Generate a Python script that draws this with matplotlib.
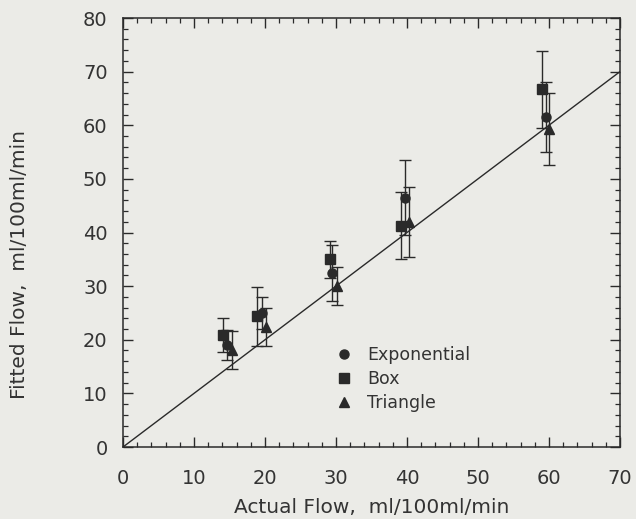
import matplotlib.pyplot as plt
from matplotlib.ticker import MultipleLocator

# values
x_exp = [14.7, 19.6, 29.5, 39.7, 59.6]
y_exp = [19.0, 25.0, 32.5, 46.5, 61.6]
e_exp = [2.8, 3.0, 5.2, 7.0, 6.5]

x_box = [14.1, 18.9, 29.1, 39.2, 59.0]
y_box = [20.9, 24.4, 35.0, 41.3, 66.7]
e_box = [3.2, 5.5, 3.5, 6.3, 7.2]

x_tri = [15.3, 20.1, 30.1, 40.3, 60.0]
y_tri = [18.1, 22.4, 30.0, 41.9, 59.3]
e_tri = [3.6, 3.5, 3.5, 6.5, 6.7]

line_x = [0, 70]
line_y = [0, 70]

bg = '#ebebe7'
ink = '#2a2a2a'

fig = plt.figure(figsize=(6.36, 5.19), dpi=100, facecolor=bg)
ax = fig.add_axes([0.1934, 0.1387, 0.7814, 0.8266], facecolor=bg)

ax.plot(line_x, line_y, color=ink, lw=1.0, zorder=1)

kw = dict(ls='none', ecolor=ink, elinewidth=1.0, capsize=4, capthick=1.0,
          color=ink, zorder=3)
ax.errorbar(x_exp, y_exp, yerr=e_exp, marker='o', ms=6.5, label='Exponential', **kw)
ax.errorbar(x_box, y_box, yerr=e_box, marker='s', ms=6.5, label='Box', **kw)
ax.errorbar(x_tri, y_tri, yerr=e_tri, marker='^', ms=6.5, label='Triangle', **kw)

ax.set_xlim(0, 70)
ax.set_ylim(0, 80)
ax.xaxis.set_major_locator(MultipleLocator(10))
ax.xaxis.set_minor_locator(MultipleLocator(2))
ax.yaxis.set_major_locator(MultipleLocator(10))
ax.yaxis.set_minor_locator(MultipleLocator(2))
ax.tick_params(which='both', direction='in', top=True, right=True, colors=ink)
ax.tick_params(which='major', length=7, width=1.0, labelsize=14, labelcolor='#333333')
ax.tick_params(which='minor', length=3.5, width=0.9)
ax.tick_params(axis='x', which='major', pad=16)
ax.tick_params(axis='y', which='major', pad=11)
for s in ax.spines.values():
    s.set_color(ink)
    s.set_linewidth(1.1)

ax.set_xlabel('Actual Flow,  ml/100ml/min', fontsize=14.5, color='#333333', labelpad=7)
ax.set_ylabel('Fitted Flow,  ml/100ml/min', fontsize=14.5, color='#333333')
ax.yaxis.set_label_coords(-0.19, 0.425)

h, l = ax.get_legend_handles_labels()
h = [x[0] for x in h]
ax.legend(h, l, loc='upper left', bbox_to_anchor=(0.40, 0.272), frameon=False,
          fontsize=12.5, handlelength=0.8, handletextpad=0.9, labelspacing=0.35,
          labelcolor='#333333')

fig.savefig('out.png', dpi=100, facecolor=bg)
